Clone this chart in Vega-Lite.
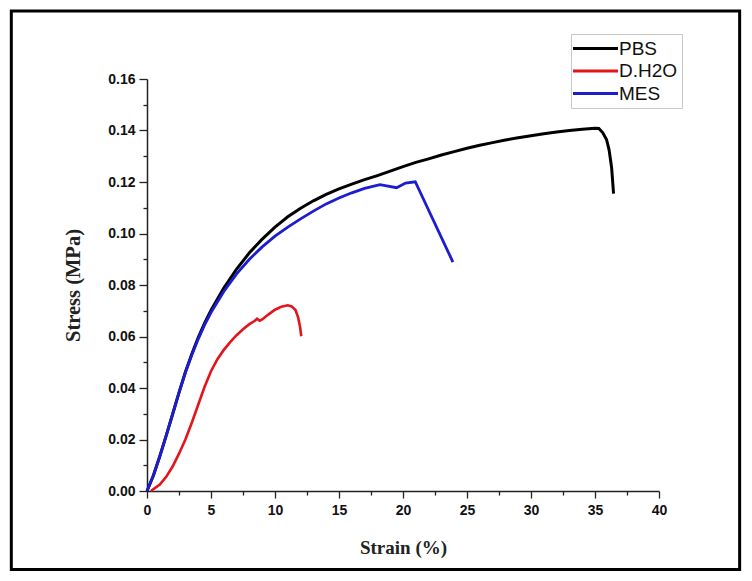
{
  "$schema": "https://vega.github.io/schema/vega-lite/v6.json",
  "width": 512,
  "height": 412,
  "autosize": {"type": "none"},
  "padding": {"left": 147, "top": 79, "right": 93, "bottom": 90},
  "background": "white",
  "config": {
    "view": {"stroke": null},
    "axis": {
      "grid": false,
      "domainColor": "#222",
      "domainWidth": 1.5,
      "tickColor": "#222",
      "tickWidth": 1.3,
      "labelFont": "Liberation Sans",
      "labelFontWeight": "bold",
      "labelFontSize": 14,
      "labelColor": "#111",
      "labelFlush": false,
      "labelOverlap": false,
      "titleFont": "Liberation Serif",
      "titleFontWeight": "bold",
      "titleColor": "#222"
    }
  },
  "datasets": {
    "curves": [
      {"sample": "PBS", "strain": 0, "stress": 0},
      {"sample": "PBS", "strain": 0.5, "stress": 0.006},
      {"sample": "PBS", "strain": 1, "stress": 0.0135},
      {"sample": "PBS", "strain": 1.5, "stress": 0.0215},
      {"sample": "PBS", "strain": 2, "stress": 0.0298},
      {"sample": "PBS", "strain": 2.5, "stress": 0.0382},
      {"sample": "PBS", "strain": 3, "stress": 0.0462},
      {"sample": "PBS", "strain": 3.5, "stress": 0.0532},
      {"sample": "PBS", "strain": 4, "stress": 0.0596},
      {"sample": "PBS", "strain": 4.5, "stress": 0.0652},
      {"sample": "PBS", "strain": 5, "stress": 0.0702},
      {"sample": "PBS", "strain": 6, "stress": 0.0788},
      {"sample": "PBS", "strain": 7, "stress": 0.0862},
      {"sample": "PBS", "strain": 8, "stress": 0.0925},
      {"sample": "PBS", "strain": 9, "stress": 0.0978},
      {"sample": "PBS", "strain": 10, "stress": 0.1025},
      {"sample": "PBS", "strain": 11, "stress": 0.1065},
      {"sample": "PBS", "strain": 12, "stress": 0.1098},
      {"sample": "PBS", "strain": 13, "stress": 0.1127},
      {"sample": "PBS", "strain": 14, "stress": 0.1152},
      {"sample": "PBS", "strain": 15, "stress": 0.1173},
      {"sample": "PBS", "strain": 16, "stress": 0.1192},
      {"sample": "PBS", "strain": 17, "stress": 0.1209},
      {"sample": "PBS", "strain": 18, "stress": 0.1225},
      {"sample": "PBS", "strain": 19, "stress": 0.1242},
      {"sample": "PBS", "strain": 20, "stress": 0.126},
      {"sample": "PBS", "strain": 21, "stress": 0.1276},
      {"sample": "PBS", "strain": 22, "stress": 0.129},
      {"sample": "PBS", "strain": 23, "stress": 0.1305},
      {"sample": "PBS", "strain": 24, "stress": 0.1318},
      {"sample": "PBS", "strain": 25, "stress": 0.1331},
      {"sample": "PBS", "strain": 26, "stress": 0.1343},
      {"sample": "PBS", "strain": 27, "stress": 0.1353},
      {"sample": "PBS", "strain": 28, "stress": 0.1363},
      {"sample": "PBS", "strain": 29, "stress": 0.1372},
      {"sample": "PBS", "strain": 30, "stress": 0.138},
      {"sample": "PBS", "strain": 31, "stress": 0.1387},
      {"sample": "PBS", "strain": 32, "stress": 0.1394},
      {"sample": "PBS", "strain": 33, "stress": 0.14},
      {"sample": "PBS", "strain": 34, "stress": 0.1405},
      {"sample": "PBS", "strain": 35, "stress": 0.1409},
      {"sample": "PBS", "strain": 35.3, "stress": 0.1408},
      {"sample": "PBS", "strain": 35.6, "stress": 0.1392},
      {"sample": "PBS", "strain": 35.9, "stress": 0.1365},
      {"sample": "PBS", "strain": 36.1, "stress": 0.1325},
      {"sample": "PBS", "strain": 36.3, "stress": 0.1255},
      {"sample": "PBS", "strain": 36.45, "stress": 0.1155},
      {"sample": "D.H2O", "strain": 0.3, "stress": 0},
      {"sample": "D.H2O", "strain": 1, "stress": 0.0025},
      {"sample": "D.H2O", "strain": 1.5, "stress": 0.0055},
      {"sample": "D.H2O", "strain": 2, "stress": 0.0095},
      {"sample": "D.H2O", "strain": 2.5, "stress": 0.0145},
      {"sample": "D.H2O", "strain": 3, "stress": 0.02},
      {"sample": "D.H2O", "strain": 3.5, "stress": 0.0265},
      {"sample": "D.H2O", "strain": 4, "stress": 0.0335},
      {"sample": "D.H2O", "strain": 4.5, "stress": 0.0405},
      {"sample": "D.H2O", "strain": 5, "stress": 0.0465},
      {"sample": "D.H2O", "strain": 5.5, "stress": 0.0512},
      {"sample": "D.H2O", "strain": 6, "stress": 0.0548},
      {"sample": "D.H2O", "strain": 6.5, "stress": 0.0578},
      {"sample": "D.H2O", "strain": 7, "stress": 0.0605},
      {"sample": "D.H2O", "strain": 7.5, "stress": 0.0628},
      {"sample": "D.H2O", "strain": 8, "stress": 0.0648},
      {"sample": "D.H2O", "strain": 8.4, "stress": 0.066},
      {"sample": "D.H2O", "strain": 8.6, "stress": 0.0669},
      {"sample": "D.H2O", "strain": 8.8, "stress": 0.0661},
      {"sample": "D.H2O", "strain": 9.0, "stress": 0.0666},
      {"sample": "D.H2O", "strain": 9.5, "stress": 0.0686},
      {"sample": "D.H2O", "strain": 10, "stress": 0.0704},
      {"sample": "D.H2O", "strain": 10.5, "stress": 0.0716},
      {"sample": "D.H2O", "strain": 11, "stress": 0.0721},
      {"sample": "D.H2O", "strain": 11.3, "stress": 0.0717},
      {"sample": "D.H2O", "strain": 11.6, "stress": 0.0703},
      {"sample": "D.H2O", "strain": 11.8, "stress": 0.0675},
      {"sample": "D.H2O", "strain": 11.95, "stress": 0.064},
      {"sample": "D.H2O", "strain": 12.05, "stress": 0.0601},
      {"sample": "MES", "strain": 0, "stress": 0},
      {"sample": "MES", "strain": 0.5, "stress": 0.006},
      {"sample": "MES", "strain": 1, "stress": 0.0135},
      {"sample": "MES", "strain": 1.5, "stress": 0.0215},
      {"sample": "MES", "strain": 2, "stress": 0.0298},
      {"sample": "MES", "strain": 2.5, "stress": 0.0382},
      {"sample": "MES", "strain": 3, "stress": 0.046},
      {"sample": "MES", "strain": 3.5, "stress": 0.0528},
      {"sample": "MES", "strain": 4, "stress": 0.059},
      {"sample": "MES", "strain": 4.5, "stress": 0.0645},
      {"sample": "MES", "strain": 5, "stress": 0.0693},
      {"sample": "MES", "strain": 6, "stress": 0.0775},
      {"sample": "MES", "strain": 7, "stress": 0.0843},
      {"sample": "MES", "strain": 8, "stress": 0.09},
      {"sample": "MES", "strain": 9, "stress": 0.0948},
      {"sample": "MES", "strain": 10, "stress": 0.099},
      {"sample": "MES", "strain": 11, "stress": 0.1025},
      {"sample": "MES", "strain": 12, "stress": 0.1057},
      {"sample": "MES", "strain": 13, "stress": 0.1087},
      {"sample": "MES", "strain": 14, "stress": 0.1115},
      {"sample": "MES", "strain": 15, "stress": 0.1138},
      {"sample": "MES", "strain": 16, "stress": 0.1158},
      {"sample": "MES", "strain": 17, "stress": 0.1175},
      {"sample": "MES", "strain": 18.2, "stress": 0.119},
      {"sample": "MES", "strain": 19.5, "stress": 0.1178},
      {"sample": "MES", "strain": 20.2, "stress": 0.1196},
      {"sample": "MES", "strain": 20.96, "stress": 0.1201},
      {"sample": "MES", "strain": 23.9, "stress": 0.0889}
    ],
    "frame": [{"x0": -10.6, "x1": 46.3, "y0": -0.0305, "y1": 0.1864}]
  },
  "layer": [
    {
      "data": {"name": "frame"},
      "mark": {"type": "rect", "fill": null, "stroke": "black", "strokeWidth": 3, "clip": false},
      "encoding": {
        "x": {"field": "x0", "type": "quantitative"},
        "x2": {"field": "x1"},
        "y": {"field": "y0", "type": "quantitative"},
        "y2": {"field": "y1"}
      }
    },
    {
      "data": {"name": "curves"},
      "transform": [{"filter": "datum.sample === 'PBS'"}],
      "mark": {"type": "line", "strokeWidth": 3},
      "encoding": {
        "x": {"field": "strain", "type": "quantitative"},
        "y": {"field": "stress", "type": "quantitative"},
        "color": {"field": "sample", "type": "nominal"}
      }
    },
    {
      "data": {"name": "curves"},
      "transform": [{"filter": "datum.sample === 'D.H2O'"}],
      "mark": {"type": "line", "strokeWidth": 2.6},
      "encoding": {
        "x": {"field": "strain", "type": "quantitative"},
        "y": {"field": "stress", "type": "quantitative"},
        "color": {"field": "sample", "type": "nominal"}
      }
    },
    {
      "data": {"name": "curves"},
      "transform": [{"filter": "datum.sample === 'MES'"}],
      "mark": {"type": "line", "strokeWidth": 2.8},
      "encoding": {
        "x": {"field": "strain", "type": "quantitative"},
        "y": {"field": "stress", "type": "quantitative"},
        "color": {"field": "sample", "type": "nominal"}
      }
    }
  ],
  "encoding": {
    "x": {
      "type": "quantitative",
      "scale": {"domain": [0, 40], "nice": false, "zero": false},
      "axis": {
        "title": "Strain (%)",
        "titleFontSize": 19,
        "values": [0, 2.5, 5, 7.5, 10, 12.5, 15, 17.5, 20, 22.5, 25, 27.5, 30, 32.5, 35, 37.5, 40],
        "labelExpr": "datum.value % 5 === 0 ? format(datum.value, 'd') : ''",
        "tickSize": {"condition": {"test": "datum.value % 5 === 0", "value": 7}, "value": 4},
        "labelPadding": 5,
        "titlePadding": 21
      }
    },
    "y": {
      "type": "quantitative",
      "scale": {"domain": [0, 0.16], "nice": false, "zero": false},
      "axis": {
        "title": "Stress (MPa)",
        "titleFontSize": 20.5,
        "values": [0, 0.01, 0.02, 0.03, 0.04, 0.05, 0.06, 0.07, 0.08, 0.09, 0.1, 0.11, 0.12, 0.13, 0.14, 0.15, 0.16],
        "labelExpr": "round(datum.value * 100) % 2 === 0 ? format(datum.value, '.2f') : ''",
        "tickSize": {"condition": {"test": "round(datum.value * 100) % 2 === 0", "value": 8}, "value": 4},
        "labelPadding": 4,
        "titlePadding": 24
      }
    },
    "color": {
      "scale": {"domain": ["PBS", "D.H2O", "MES"], "range": ["#000000", "#e3141b", "#1c1cd0"]},
      "legend": {
        "title": null,
        "orient": "none",
        "legendX": 424,
        "legendY": -45,
        "symbolType": "M-2.5,0H2.5",
        "symbolSize": 324,
        "symbolStrokeWidth": 3,
        "symbolOffset": 10,
        "labelFont": "Liberation Sans",
        "labelFontSize": 19,
        "labelColor": "#111",
        "labelOffset": 13,
        "rowPadding": 1.5,
        "padding": 4,
        "strokeColor": "#c8c8c8",
        "fillColor": "white"
      }
    }
  }
}
